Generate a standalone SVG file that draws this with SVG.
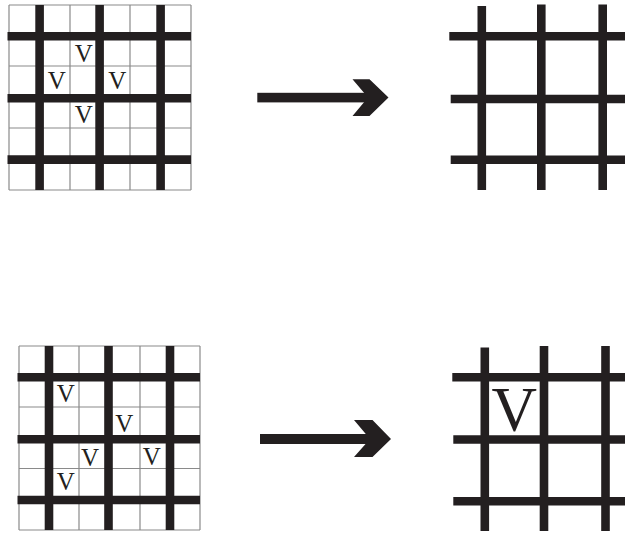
<svg xmlns="http://www.w3.org/2000/svg" width="625" height="533" viewBox="0 0 625 533">
  <style>
    .thin { stroke: #8a8a8a; stroke-width: 1.2; fill: none; }
    .thick { stroke: #231f20; stroke-width: 8.6; fill: none; }
    .ink { fill: #231f20; }
    .v { font-family: "Liberation Serif", "Times New Roman", serif; fill: #231f20; text-anchor: middle; }
    .small { font-size: 25px; }
    .big { font-size: 63px; }
  </style>
  <rect width="625" height="533" fill="#ffffff"/>

  <!-- top-left: fine 6x6 grid with coarse overlay and V marks -->
  <g id="fine-grid-top">
    <path class="thin" d="M9,5V190M39.4,5V190M70,5V190M99.6,5V190M130,5V190M160.6,5V190M191,5V190
                          M9,5H191M9,36H191M9,66H191M9,98H191M9,128H191M9,159.5H191M9,190H191"/>
    <path class="thick" d="M39.6,5V190M99.6,5V190M160.6,5V190M7.5,36.2H191M7.5,98.2H191M7.5,159.6H191"/>
    <text class="v small" x="83.8" y="62.3">V</text>
    <text class="v small" x="56.7" y="89.3">V</text>
    <text class="v small" x="117.2" y="89.3">V</text>
    <text class="v small" x="83.8" y="123.3">V</text>
  </g>

  <!-- top-right: coarse grid result -->
  <g id="coarse-grid-top">
    <path class="thick" d="M481.8,6V190M541.3,4.5V190M602.7,4.5V190M449.3,36.3H625M450.7,99H625M450.7,159.7H625"/>
  </g>

  <!-- bottom-left: fine 6x6 grid with coarse overlay and V marks -->
  <g id="fine-grid-bottom">
    <path class="thin" d="M19,346V530M49,346V530M79,346V530M108.5,346V530M140,346V530M170,346V530M200,346V530
                          M19,346H200M19,377H200M19,407H200M19,439.5H200M19,468.5H200M19,500H200M19,530H200"/>
    <path class="thick" d="M49,346V530M108.5,346V530M170,346V530M17.5,377.3H200M17.5,439.3H200M17.5,500H200"/>
    <text class="v small" x="65.8" y="401.7">V</text>
    <text class="v small" x="124.2" y="432.3">V</text>
    <text class="v small" x="90" y="465.7">V</text>
    <text class="v small" x="151.7" y="465">V</text>
    <text class="v small" x="65.8" y="490">V</text>
  </g>

  <!-- bottom-right: coarse grid result with a single V -->
  <g id="coarse-grid-bottom">
    <path class="thick" d="M484.8,347.5V531M544,346V531M605.5,346V531M452.3,377.3H625M453.3,439.5H625M453.3,501.2H625"/>
    <text class="v big" x="514.2" y="431">V</text>
  </g>

  <!-- arrows between the grids -->
  <g id="connectors">
    <g id="arrow-top">
      <rect class="ink" x="257.3" y="92.8" width="112" height="9.6"/>
      <polygon class="ink" points="352.5,79.3 369.5,79.3 388.5,97.6 369.5,116 352.5,116 368,97.6"/>
    </g>
    <g id="arrow-bottom">
      <rect class="ink" x="260" y="434" width="112" height="10"/>
      <polygon class="ink" points="354,420 372.5,420 391,439 372.5,457 354,457 370,439"/>
    </g>
  </g>
</svg>
